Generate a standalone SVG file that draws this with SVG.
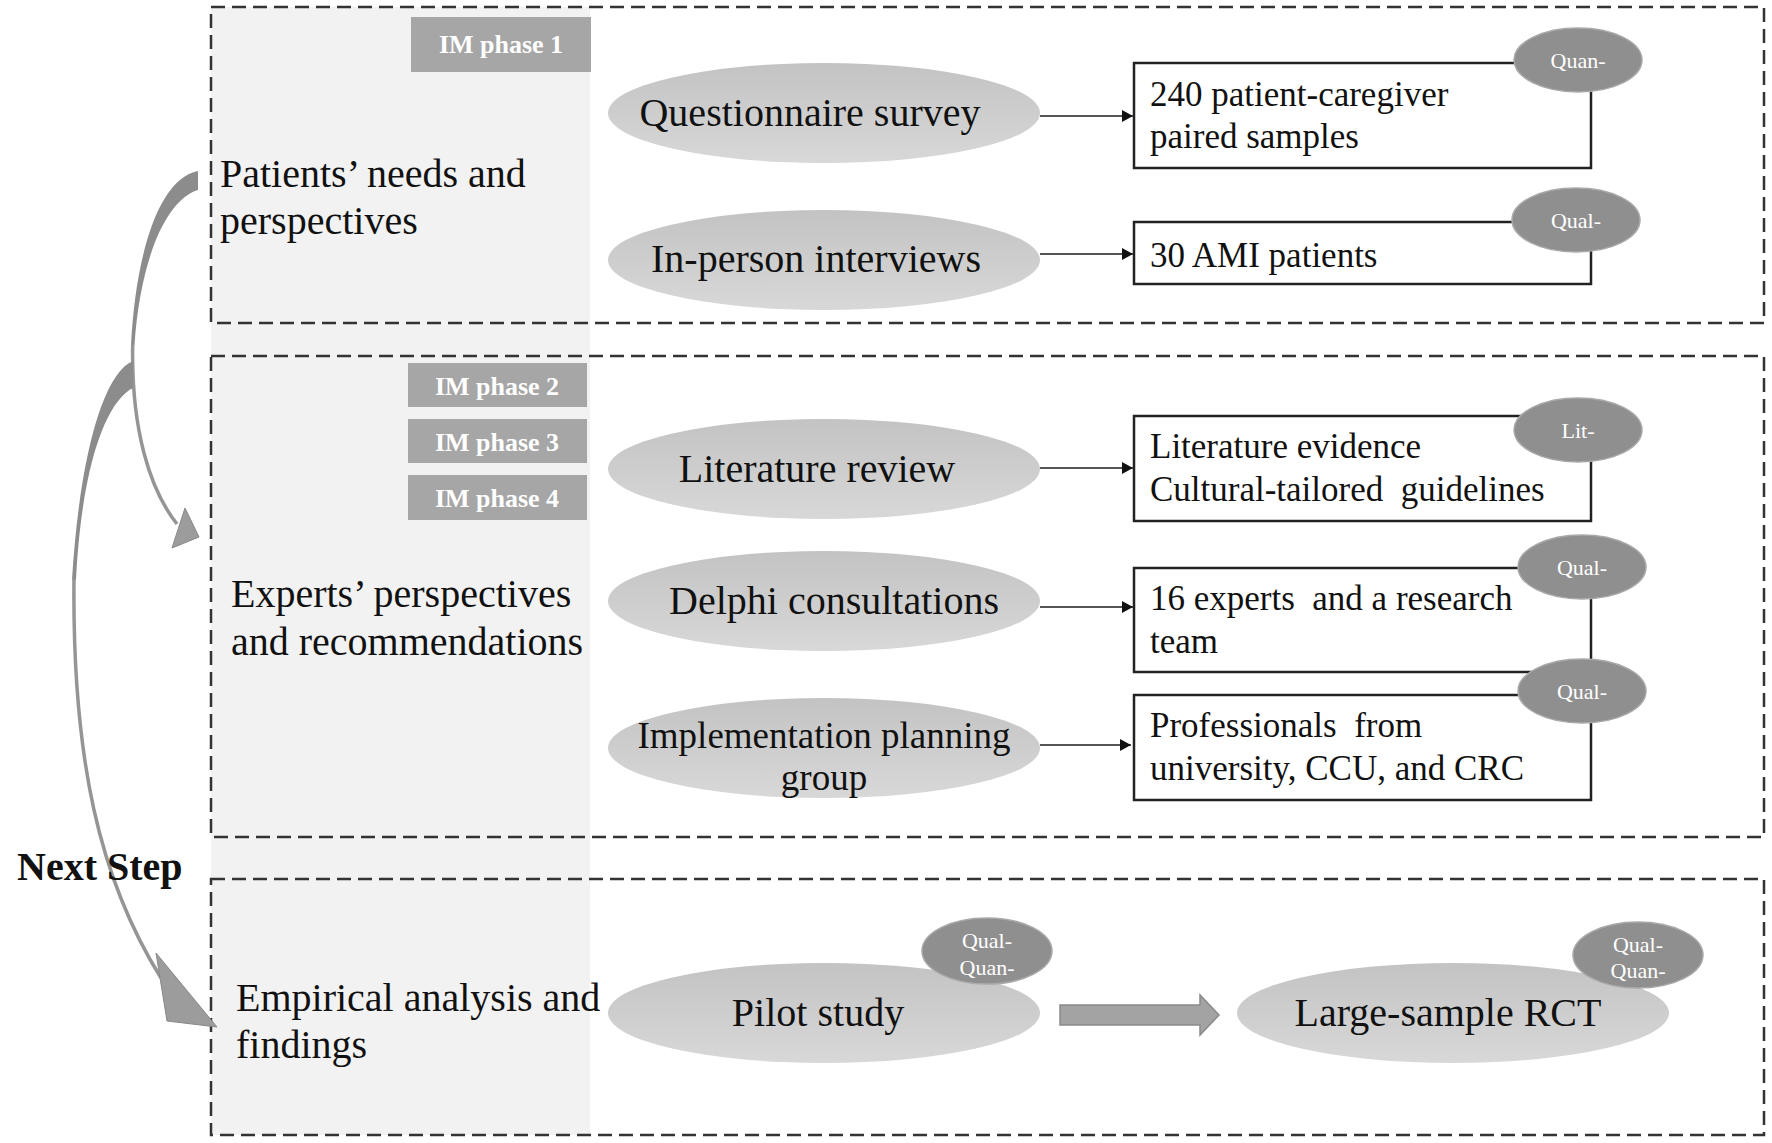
<svg xmlns="http://www.w3.org/2000/svg" width="1772" height="1143" viewBox="0 0 1772 1143">
<defs>
<linearGradient id="eg" x1="0" y1="0" x2="0" y2="1">
<stop offset="0" stop-color="#c3c3c3"/>
<stop offset="1" stop-color="#d8d8d8"/>
</linearGradient>
<marker id="ah" markerWidth="12" markerHeight="12" refX="11" refY="6" orient="auto" markerUnits="userSpaceOnUse">
<path d="M0,0 L11,6 L0,12 Z" fill="#111"/>
</marker>
<style>
.dash{fill:none;stroke:#333;stroke-width:2.5;stroke-dasharray:14 7}
.im{fill:#a6a6a6}
.imt{font-family:"Liberation Serif",serif;font-weight:bold;font-size:26px;fill:#fff;text-anchor:middle}
.ell{fill:url(#eg)}
.et{font-family:"Liberation Serif",serif;font-size:40px;fill:#111;text-anchor:middle}
.et2{font-family:"Liberation Serif",serif;font-size:37px;fill:#111;text-anchor:middle}
.lbl{font-family:"Liberation Serif",serif;font-size:40px;fill:#111}
.box{fill:#fff;stroke:#222;stroke-width:2.5}
.bt{font-family:"Liberation Serif",serif;font-size:35px;fill:#111}
.badge{fill:#8f8f8f;stroke:#a9a9a9;stroke-width:1.5}
.bdt{font-family:"Liberation Serif",serif;font-size:22px;fill:#fff;text-anchor:middle}
.conn{stroke:#555;stroke-width:2;fill:none;marker-end:url(#ah)}
.curve{fill:#8c8c8c}
.thin{fill:none;stroke:#959595;stroke-width:3.5}
.head{fill:#9c9c9c;stroke:#888;stroke-width:1}
</style>
</defs>
<rect width="1772" height="1143" fill="#fff"/>
<rect x="211" y="7" width="379" height="1128" fill="#f2f2f2"/>

<g id="section1">
<rect class="dash" x="211" y="7" width="1553" height="316"/>
<g id="im1"><rect class="im" x="411" y="17" width="180" height="55"/><text class="imt" x="501" y="53">IM phase 1</text></g>
<g id="label1"><text class="lbl" x="220" y="187">Patients’ needs and</text><text class="lbl" x="220" y="234">perspectives</text></g>
<g id="questionnaire"><ellipse class="ell" cx="824" cy="113" rx="216" ry="50"/><text class="et" x="810" y="126">Questionnaire survey</text></g>
<g id="interviews"><ellipse class="ell" cx="824" cy="260" rx="216" ry="50"/><text class="et" x="816" y="272">In-person interviews</text></g>
<g id="samples"><rect class="box" x="1134" y="63" width="457" height="105"/><text class="bt" x="1150" y="106">240 patient-caregiver</text><text class="bt" x="1150" y="148">paired samples</text>
<ellipse class="badge" cx="1578" cy="60" rx="64" ry="32"/><text class="bdt" x="1578" y="68">Quan-</text></g>
<g id="patients30"><rect class="box" x="1134" y="222" width="457" height="62"/><text class="bt" x="1150" y="267">30 AMI patients</text>
<ellipse class="badge" cx="1576" cy="220" rx="64" ry="32"/><text class="bdt" x="1576" y="228">Qual-</text></g>
</g>

<g id="section2">
<rect class="dash" x="211" y="356" width="1553" height="481"/>
<g id="im2"><rect class="im" x="408" y="363" width="179" height="44"/><text class="imt" x="497" y="395">IM phase 2</text></g>
<g id="im3"><rect class="im" x="408" y="419" width="179" height="44"/><text class="imt" x="497" y="451">IM phase 3</text></g>
<g id="im4"><rect class="im" x="408" y="475" width="179" height="45"/><text class="imt" x="497" y="507">IM phase 4</text></g>
<g id="label2"><text class="lbl" x="231" y="607">Experts’ perspectives</text><text class="lbl" x="231" y="655">and recommendations</text></g>
<g id="literature"><ellipse class="ell" cx="824" cy="469" rx="216" ry="50"/><text class="et" x="817" y="482">Literature review</text></g>
<g id="delphi"><ellipse class="ell" cx="824" cy="601" rx="216" ry="50"/><text class="et" x="834" y="614">Delphi consultations</text></g>
<g id="planning"><ellipse class="ell" cx="824" cy="748" rx="216" ry="50"/><text class="et2" x="824" y="748">Implementation planning</text><text class="et2" x="824" y="790">group</text></g>
<g id="evidence"><rect class="box" x="1134" y="416" width="457" height="105"/><text class="bt" x="1150" y="458">Literature evidence</text><text class="bt" x="1150" y="501" xml:space="preserve">Cultural-tailored  guidelines</text>
<ellipse class="badge" cx="1578" cy="430" rx="64" ry="32"/><text class="bdt" x="1578" y="438">Lit-</text></g>
<g id="experts"><rect class="box" x="1134" y="568" width="457" height="104"/><text class="bt" x="1150" y="610" xml:space="preserve">16 experts  and a research</text><text class="bt" x="1150" y="653">team</text>
<ellipse class="badge" cx="1582" cy="567" rx="64" ry="32"/><text class="bdt" x="1582" y="575">Qual-</text></g>
<g id="professionals"><rect class="box" x="1134" y="695" width="457" height="105"/><text class="bt" x="1150" y="737" xml:space="preserve">Professionals  from</text><text class="bt" x="1150" y="780">university, CCU, and CRC</text>
<ellipse class="badge" cx="1582" cy="691" rx="64" ry="32"/><text class="bdt" x="1582" y="699">Qual-</text></g>
</g>

<g id="section3">
<rect class="dash" x="211" y="879" width="1553" height="256"/>
<g id="label3"><text class="lbl" x="236" y="1011">Empirical analysis and</text><text class="lbl" x="236" y="1058">findings</text></g>
<g id="pilot"><ellipse class="ell" cx="824" cy="1013" rx="216" ry="50"/><text class="et" x="818" y="1026">Pilot study</text>
<ellipse class="badge" cx="987" cy="951" rx="65" ry="33"/><text class="bdt" x="987" y="948">Qual-</text><text class="bdt" x="987" y="975">Quan-</text></g>
<g id="rct"><ellipse class="ell" cx="1453" cy="1013" rx="216" ry="50"/><text class="et" x="1448" y="1026">Large-sample RCT</text>
<ellipse class="badge" cx="1638" cy="955" rx="65" ry="33"/><text class="bdt" x="1638" y="952">Qual-</text><text class="bdt" x="1638" y="978">Quan-</text></g>
</g>

<g id="connectors">
<line class="conn" x1="1040" y1="116" x2="1133" y2="116"/>
<line class="conn" x1="1040" y1="254" x2="1133" y2="254"/>
<line class="conn" x1="1040" y1="468" x2="1133" y2="468"/>
<line class="conn" x1="1040" y1="607" x2="1133" y2="607"/>
<line class="conn" x1="1040" y1="745" x2="1131" y2="745"/>
<path fill="#a3a3a3" stroke="#8a8a8a" stroke-width="1.5" d="M1060,1005 L1200,1005 L1200,995 L1219,1015 L1200,1035 L1200,1025 L1060,1025 Z"/>
<g id="curve1">
<path class="curve" d="M198,171 C160,178 136,250 131,345 L134.5,345 C140,262 165,200 198,190 Z"/>
<path class="thin" d="M132.7,344 C131,430 150,490 177,524"/>
<path class="head" d="M185,508 L199,537 L172,548 Z"/>
</g>
<g id="curve2">
<path class="curve" d="M133,361 C105,372 80,450 72,580 L76,580 C82,460 108,400 133,388 Z"/>
<path class="thin" d="M74,578 C72,760 100,880 161,978"/>
<path class="head" d="M156,953 L217,1027 L167,1021 Z"/>
</g>
</g>

<text x="17" y="880" font-family="Liberation Serif, serif" font-weight="bold" font-size="40" fill="#111">Next Step</text>
</svg>
